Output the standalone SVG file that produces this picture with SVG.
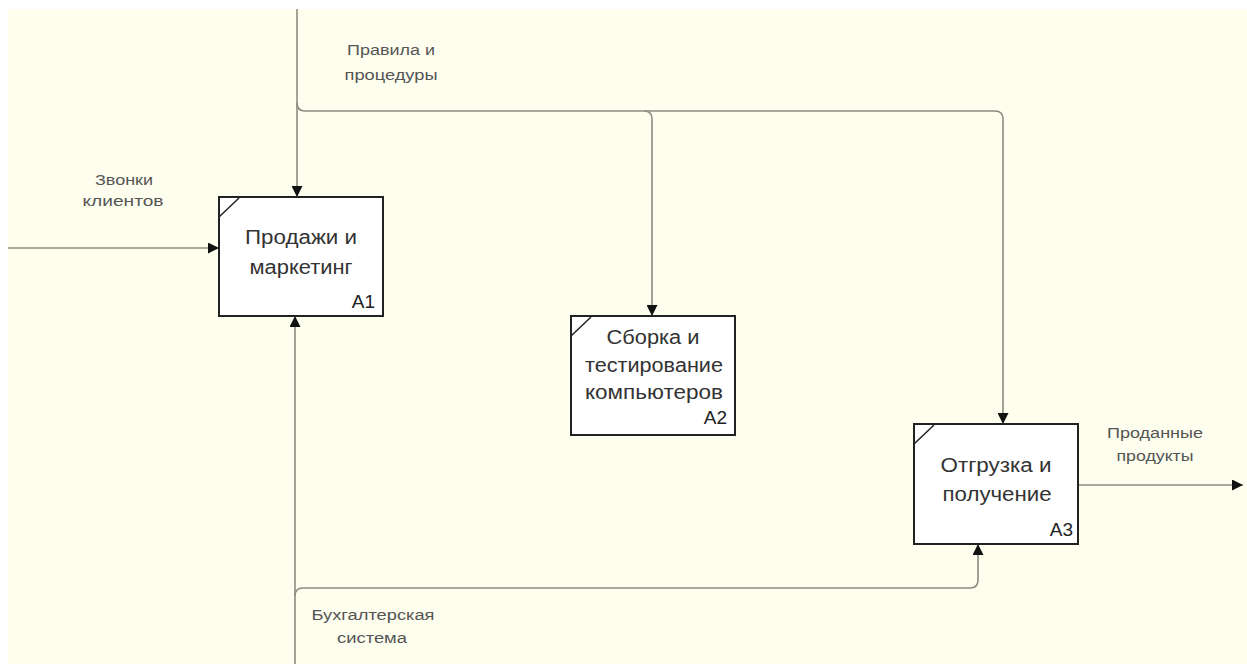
<svg xmlns="http://www.w3.org/2000/svg" width="1247" height="664" viewBox="0 0 1247 664">
<defs>
<marker id="arr" viewBox="0 0 10 10" refX="10" refY="5" markerWidth="13" markerHeight="11" markerUnits="userSpaceOnUse" orient="auto">
<path d="M0,0 L10,5 L0,10 Z" fill="#111"/>
</marker>
</defs>
<style>
.box{fill:#fff;stroke:#222;stroke-width:2}
.corner{stroke:#222;stroke-width:1.5}
.conn{fill:none;stroke:#8c8c80;stroke-width:1.6}
.lbl{font-family:"Liberation Sans",Arial,sans-serif;font-size:20px;fill:#333;text-anchor:middle}
.num{font-family:"Liberation Sans",Arial,sans-serif;font-size:19px;fill:#222;text-anchor:end}
.arrlbl{font-family:"Liberation Sans",Arial,sans-serif;font-size:14px;fill:#555;text-anchor:middle}
</style>
<rect x="0" y="0" width="1247" height="664" fill="#fff"/>
<rect x="8" y="9" width="1239" height="655" fill="#fefeee"/>
<g id="connectors">
<path class="conn" d="M297,9 V197" marker-end="url(#arr)"/>
<path class="conn" d="M297,103 Q297,111 305,111 H995 Q1003,111 1003,119 V424" marker-end="url(#arr)"/>
<path class="conn" d="M644,111 Q652,111 652,119 V316" marker-end="url(#arr)"/>
<path class="conn" d="M8,248 H219" marker-end="url(#arr)"/>
<path class="conn" d="M295,664 V316" marker-end="url(#arr)"/>
<path class="conn" d="M295,596 Q295,588 303,588 H970 Q978,588 978,580 V544" marker-end="url(#arr)"/>
<path class="conn" d="M1078,485 H1243" marker-end="url(#arr)"/>
<text class="arrlbl" x="391" y="55" textLength="88" lengthAdjust="spacingAndGlyphs">Правила и</text>
<text class="arrlbl" x="391" y="80" textLength="93" lengthAdjust="spacingAndGlyphs">процедуры</text>
<text class="arrlbl" x="124" y="185" textLength="58" lengthAdjust="spacingAndGlyphs">Звонки</text>
<text class="arrlbl" x="123" y="206" textLength="81" lengthAdjust="spacingAndGlyphs">клиентов</text>
<text class="arrlbl" x="1155" y="438" textLength="96" lengthAdjust="spacingAndGlyphs">Проданные</text>
<text class="arrlbl" x="1155" y="461" textLength="77" lengthAdjust="spacingAndGlyphs">продукты</text>
<text class="arrlbl" x="373" y="620" textLength="123" lengthAdjust="spacingAndGlyphs">Бухгалтерская</text>
<text class="arrlbl" x="372" y="643" textLength="70" lengthAdjust="spacingAndGlyphs">система</text>
</g>
<g id="A1">
<rect class="box" x="219" y="197" width="164" height="119"/>
<line class="corner" x1="219" y1="217" x2="239" y2="198"/>
<text class="lbl" x="301" y="244" textLength="112" lengthAdjust="spacingAndGlyphs">Продажи и</text>
<text class="lbl" x="301" y="274" textLength="103" lengthAdjust="spacingAndGlyphs">маркетинг</text>
<text class="num" x="375" y="308">A1</text>
</g>
<g id="A2">
<rect class="box" x="571" y="316" width="164" height="119"/>
<line class="corner" x1="571" y1="336" x2="591" y2="317"/>
<text class="lbl" x="653" y="344" textLength="93" lengthAdjust="spacingAndGlyphs">Сборка и</text>
<text class="lbl" x="654" y="372" textLength="138" lengthAdjust="spacingAndGlyphs">тестирование</text>
<text class="lbl" x="654" y="399" textLength="138" lengthAdjust="spacingAndGlyphs">компьютеров</text>
<text class="num" x="727" y="424">A2</text>
</g>
<g id="A3">
<rect class="box" x="914" y="424" width="164" height="120"/>
<line class="corner" x1="914" y1="444" x2="934" y2="425"/>
<text class="lbl" x="996" y="472" textLength="111" lengthAdjust="spacingAndGlyphs">Отгрузка и</text>
<text class="lbl" x="997" y="501" textLength="109" lengthAdjust="spacingAndGlyphs">получение</text>
<text class="num" x="1073" y="536">A3</text>
</g>
</svg>
